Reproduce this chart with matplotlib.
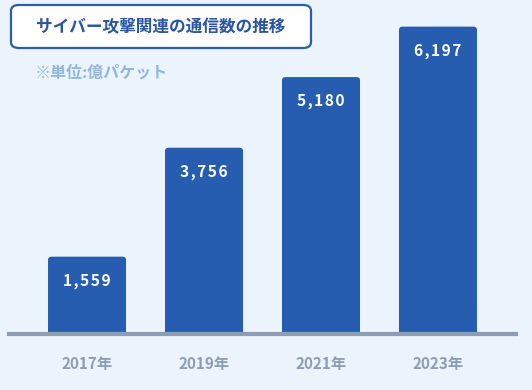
import matplotlib
matplotlib.use("Agg")
import matplotlib.pyplot as plt
from matplotlib.patches import FancyBboxPatch

plt.rcParams["font.family"] = ["Noto Sans CJK JP", "DejaVu Sans"]

years = ["2017年", "2019年", "2021年", "2023年"]
packets = [1559, 3756, 5180, 6197]
value_labels = ["1,559", "3,756", "5,180", "6,197"]

W, H = 532, 390
BG = "#EBF3FC"
BAR = "#275DB1"
GRAY = "#8C9DB5"

fig = plt.figure(figsize=(W / 100, H / 100), dpi=100, facecolor=BG)

# axes: baseline at y=334px, spans x 9..516px
ax = fig.add_axes([9 / W, (H - 334) / H, 507 / W, 334 / H])
ax.set_facecolor(BG)
x = range(len(years))
bars = ax.bar(x, packets, width=0.667, color=BAR, zorder=2)
ax.set_xlim(-0.667, 3.667)
ax.set_ylim(0, 6734)

# swap the plain rectangles for ones with rounded top corners
r = 0.03  # radius in x units
aspect = 2300
for b in bars:
    b.set_visible(False)
    rb = FancyBboxPatch((b.get_x(), -2 * r * aspect), b.get_width(),
                        b.get_height() + 2 * r * aspect,
                        boxstyle=f"round,pad=0,rounding_size={r}",
                        mutation_aspect=aspect, facecolor=BAR,
                        edgecolor="none", zorder=2)
    ax.add_patch(rb)

for i, (v, lab) in enumerate(zip(packets, value_labels)):
    ax.annotate("\u200a".join(lab), (i, v), xytext=(0, -17.5), textcoords="offset points",
                ha="center", va="center", color="white", fontsize=11.2,
                fontweight="bold", zorder=3)

for s in ["top", "left", "right"]:
    ax.spines[s].set_visible(False)
ax.spines["bottom"].set_color(GRAY)
ax.spines["bottom"].set_linewidth(3)
ax.spines["bottom"].set_zorder(4)
ax.set_yticks([])
ax.set_xticks(list(x))
ax.set_xticklabels(years, color=GRAY, fontsize=11, fontweight="bold")
ax.tick_params(axis="x", length=0, pad=16)

# title box
box = FancyBboxPatch((11 / W, (H - 48) / H), 300 / W, 43 / H,
                     boxstyle="round,pad=0,rounding_size=0.015",
                     transform=fig.transFigure, facecolor="white",
                     edgecolor="#2A5DB0", linewidth=1.6)
fig.patches.append(box)
fig.text(161 / W, (H - 27) / H, "サイバー攻撃関連の通信数の推移", ha="center", va="center",
         fontsize=12, fontweight="bold", color="#2A55A0")
fig.text(35 / W, (H - 73) / H, "※単位:億パケット", ha="left", va="center",
         fontsize=11.5, fontweight="bold", color="#93B6DE")

fig.savefig("out.png", dpi=100, facecolor=BG)
